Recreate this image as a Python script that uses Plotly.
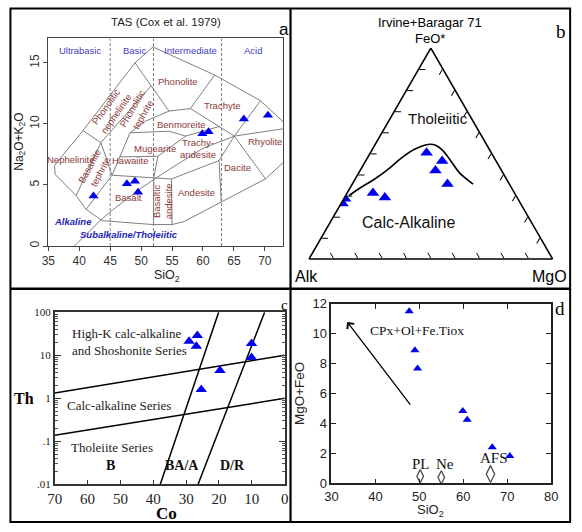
import numpy as np
import plotly.graph_objects as go

W, H = 582, 532

# ---------------- Panel a: TAS (Cox et al. 1979) ----------------
tas_sio2 = [42.3, 47.7, 49.0, 49.5, 59.9, 60.9, 66.6, 70.5]
tas_alk = [4.1, 5.1, 5.3, 4.4, 9.2, 9.35, 10.4, 10.7]

tas_lines = [
    ([36.0, 40.6, 49.0, 51.9, 61.9, 69.3, 73.0], [6.6, 9.45, 15.0, 16.3, 14.0, 11.9, 10.15]),
    ([36.0, 36.1, 39.5, 41.1, 43.7, 51.9, 55.0, 56.9, 70.1, 73.0], [6.6, 5.86, 4.13, 3.0, 2.08, 1.76, 1.76, 2.0, 5.5, 6.85]),
    ([40.6, 43.5], [9.45, 8.47]),
    ([43.5, 39.5], [8.47, 4.13]),
    ([43.5, 51.6], [8.47, 13.1]),
    ([49.0, 51.6, 54.5], [15.0, 13.1, 11.05]),
    ([54.5, 57.96], [11.05, 11.26]),
    ([61.9, 57.96], [14.0, 11.26]),
    ([57.96, 65.06], [11.26, 9.0]),
    ([69.3, 65.06, 62.6], [11.9, 9.0, 7.0]),
    ([65.06, 70.1], [9.0, 5.5]),
    ([62.6, 62.95], [7.0, 3.62]),
    ([45.3, 52.05, 54.9, 62.6], [5.8, 5.6, 5.49, 7.0]),
    ([52.05, 52.0], [5.6, 1.76]),
    ([54.9, 55.0], [5.49, 1.76]),
    ([45.3, 41.1], [5.8, 3.0]),
    ([43.5, 45.3], [8.47, 5.8]),
    ([54.5, 50.6, 48.2, 45.3], [11.05, 10.2, 9.27, 5.8]),
    ([46.5, 52.7], [7.3, 7.35]),
    ([48.2, 54.5, 57.2], [9.27, 9.4, 9.0]),
    ([52.05, 52.7, 57.2], [5.6, 7.35, 9.0]),
    ([57.2, 62.7], [9.0, 9.8]),
    ([39.2, 40, 43.2, 45, 48, 50, 53.7, 55, 60, 65.06, 73], [0, 0.4, 2, 2.8, 4, 4.75, 6, 6.4, 8, 9.0, 9.6]),
]
tas_dividers = [45, 52, 63]

tas_fields = [
    ("Phonolite", 55.95, 13.45, 0), ("Trachyte", 63.2, 11.53, 0), ("Benmoreite", 56.5, 9.93, 0),
    ("Mugearite", 52.2, 8.0, 0), ("Trachy-<br>andesite", 59.2, 7.95, 0), ("Rhyolite", 69.95, 8.52, 0),
    ("Dacite", 65.5, 6.47, 0), ("Hawaiite", 48.2, 7.0, 0), ("Nephelinite", 38.7, 7.05, 0),
    ("Basalt", 47.95, 3.94, 0), ("Andesite", 59.0, 4.42, 0), ("Basaltic<br>andesite", 53.45, 3.7, -90),
    ("Basanite<br>tephrite", 42.4, 6.3, -62), ("Phonolitic<br>nephelinite", 45.05, 11.1, -55),
    ("Phonolitic<br>tephrite", 49.4, 11.0, -60),
]
tas_groups = [("Ultrabasic", 40.05), ("Basic", 49.0), ("Intermediate", 57.95), ("Acid", 68.07)]

# ---------------- Panel b: AFM (Irvine & Baragar 1971) ----------------
afm_feo = [0.263, 0.286, 0.313, 0.291, 0.503, 0.465, 0.420, 0.355]
afm_mgo = [0.006, 0.005, 0.106, 0.166, 0.231, 0.314, 0.309, 0.391]
afm_alk = [1 - f - m for f, m in zip(afm_feo, afm_mgo)]

ib_feo = [0.301, 0.339, 0.378, 0.424, 0.477, 0.520, 0.543, 0.538, 0.515, 0.462, 0.408, 0.355]
ib_mgo = [0.014, 0.043, 0.079, 0.111, 0.139, 0.173, 0.217, 0.253, 0.291, 0.353, 0.414, 0.496]
ib_alk = [1 - f - m for f, m in zip(ib_feo, ib_mgo)]

# ---------------- Panel c: Th vs Co (Hastie et al. 2007) ----------------
co_vals = [29.1, 26.6, 26.9, 25.4, 19.7, 10.1, 10.1]
th_vals = [21.0, 28.8, 16.2, 1.6, 4.4, 18.7, 8.9]
hc_lines = [
    ([70, 0], [1.32, 10.0]),
    ([70, 0], [0.139, 1.0]),
    ([37.9, 20.1], [0.01, 100]),
    ([26.4, 6.1], [0.01, 100]),
]
hc_ticks = [0.01, 0.1, 1, 10, 100]
hc_ticktext = [".01", ".1", "1", "10", "100"]
hc_minor = [k * 10.0 ** e for e in range(-2, 2) for k in range(2, 10)]

# ---------------- Panel d: MgO+FeO vs SiO2 ----------------
d_sio2 = [47.7, 49.0, 49.6, 59.9, 60.9, 66.6, 70.6]
d_mgfe = [11.5, 8.9, 7.68, 4.84, 4.26, 2.42, 1.84]
min_names = ["PL", "Ne", "AFS"]
min_sio2 = [50.2, 55.0, 66.2]
min_mgfe = [0.48, 0.41, 0.63]
min_size = [9.5, 9.5, 12]
arrow_tail = (48.2, 5.17)
arrow_head = (33.6, 10.79)

BLUE = "#0000ee"
SANS = "Liberation Sans, Arial, sans-serif"
SERIF = "Liberation Serif, Times New Roman, serif"


def px(x):
    return x / W


def py(y):
    return 1 - y / H


fig = go.Figure()

# Panel a traces
for xs, ys in tas_lines:
    fig.add_trace(go.Scatter(x=xs, y=ys, mode="lines", line=dict(color="#7f7f7f", width=1),
                             hoverinfo="skip", showlegend=False, xaxis="x", yaxis="y"))
for d in tas_dividers:
    fig.add_trace(go.Scatter(x=[d, d], y=[0, 17], mode="lines",
                             line=dict(color="#7f7f7f", width=1, dash="3px,2px"),
                             hoverinfo="skip", showlegend=False, xaxis="x", yaxis="y"))
fig.add_trace(go.Scatter(x=tas_sio2, y=tas_alk, mode="markers",
                         marker=dict(symbol="triangle-up", size=9, color=BLUE),
                         showlegend=False, xaxis="x", yaxis="y"))

# Panel b traces
fig.add_trace(go.Scatterternary(a=ib_feo, b=ib_alk, c=ib_mgo, mode="lines",
                                line=dict(color="black", width=1.6, shape="spline"),
                                showlegend=False, subplot="ternary"))
fig.add_trace(go.Scatterternary(a=afm_feo, b=afm_alk, c=afm_mgo, mode="markers",
                                marker=dict(symbol="triangle-up", size=11, color=BLUE),
                                showlegend=False, subplot="ternary"))

# Panel c traces
for xs, ys in hc_lines:
    fig.add_trace(go.Scatter(x=xs, y=ys, mode="lines", line=dict(color="black", width=1.5),
                             hoverinfo="skip", showlegend=False, xaxis="x2", yaxis="y2"))
fig.add_trace(go.Scatter(x=co_vals, y=th_vals, mode="markers",
                         marker=dict(symbol="triangle-up", size=10, color=BLUE),
                         showlegend=False, xaxis="x2", yaxis="y2"))

# Panel d traces
fig.add_trace(go.Scatter(x=d_sio2, y=d_mgfe, mode="markers",
                         marker=dict(symbol="triangle-up", size=8, color=BLUE),
                         showlegend=False, xaxis="x3", yaxis="y3"))
fig.add_trace(go.Scatter(x=min_sio2, y=min_mgfe, mode="markers",
                         marker=dict(symbol="diamond-tall-open", size=min_size, color="black",
                                     line=dict(width=1.3, color="black")),
                         showlegend=False, xaxis="x3", yaxis="y3"))

ann = []


def note(text, x, y, xref="paper", yref="paper", size=12, family=SANS, color="black",
         angle=0, xanchor="center", align="center"):
    if xref == "paper":
        x = px(x)
    if yref == "paper":
        y = py(y)
    ann.append(dict(x=x, y=y, xref=xref, yref=yref, text=text, showarrow=False,
                    textangle=angle, xanchor=xanchor, yanchor="middle", align=align,
                    font=dict(family=family, size=size, color=color)))


# Panel a annotations
for txt, x, y, ang in tas_fields:
    note(txt, x, y, "x", "y", size=9.5, color="#8b3a3a", angle=ang)
for txt, x in tas_groups:
    note(txt, x, 15.97, "x", "y", size=9.5, color="#3d3dc4")
note("<b><i>Alkaline</i></b>", 39.0, 2.02, "x", "y", size=9.5, color="#1f1fb4")
note("<b><i>Subalkaline/Tholeiitic</i></b>", 48.0, 0.93, "x", "y", size=9.5, color="#1f1fb4")
note("TAS (Cox et al. 1979)", 162, 15, size=11.5, color="#222")
note("a", 283, 23, size=17)
note("Na<sub>2</sub>O+K<sub>2</sub>O", 12, 139, size=12, color="#222", angle=-90)
note("SiO<sub>2</sub>", 163, 277, size=12.5, color="#222")

# Panel b annotations
note("Irvine+Baragar 71", 432.7, 16, size=13)
note("FeO*", 432.7, 32, size=13)
note("Alk", 306, 277, size=16)
note("MgO", 556, 277, size=16)
note("Tholeiitic", 441, 115, size=15, color="#111")
note("Calc-Alkaline", 411, 221.5, size=16, color="#111")
note("b", 568, 25, size=19, family=SERIF)

# Panel c annotations
note("High-K calc-alkaline<br>and Shoshonite Series", 65.3, np.log10(20), "x2", "y2",
     size=13, family=SERIF, color="#222", xanchor="left", align="left")
note("Calc-alkaline Series", 67.0, np.log10(0.695), "x2", "y2", size=13, family=SERIF,
     color="#222", xanchor="left")
note("Tholeiite Series", 65.8, np.log10(0.0708), "x2", "y2", size=13, family=SERIF,
     color="#222", xanchor="left")
for txt, x in [("B", 53.1), ("BA/A", 31.3), ("D/R", 15.9)]:
    note("<b>%s</b>" % txt, x, np.log10(0.027), "x2", "y2", size=14, family=SERIF, color="#111")
note("<b>Th</b>", 16, 403, size=16, family=SERIF)
note("<b>Co</b>", 163, 521, size=17, family=SERIF)
note("c", 284, 307, size=15, family=SERIF)

# Panel d annotations
ann.append(dict(x=arrow_head[0], y=arrow_head[1], ax=arrow_tail[0], ay=arrow_tail[1],
                xref="x3", yref="y3", axref="x3", ayref="y3", text="", showarrow=True,
                arrowhead=4, arrowsize=1.3, arrowwidth=1.3, arrowcolor="black"))
note("CPx+Ol+Fe.Tiox", 38.4, 10.2, "x3", "y3", size=13.5, family=SERIF, color="#111",
     xanchor="left")
for nm, x, y in zip(min_names, [50.3, 55.8, 67.1], [1.3, 1.3, 1.72]):
    note(nm, x, y, "x3", "y3", size=15, family=SERIF, color="#111")
note("MgO+FeO", 299, 398, size=13.5, color="#222", angle=-90)
note("SiO<sub>2</sub>", 434, 518, size=13, color="#222")
note("d", 567, 310, size=19, family=SERIF)

shapes = [
    dict(type="rect", xref="paper", yref="paper", x0=px(2.5), y0=py(1.5), x1=px(577), y1=py(530),
         line=dict(color="black", width=2)),
    dict(type="line", xref="paper", yref="paper", x0=px(290), y0=py(1.5), x1=px(290), y1=py(530),
         line=dict(color="black", width=2.2)),
    dict(type="line", xref="paper", yref="paper", x0=px(2.5), y0=py(290), x1=px(577), y1=py(290),
         line=dict(color="black", width=2.6)),
]

ternary_axis = dict(showticklabels=False, ticks="inside", ticklen=6, dtick=0.1, tick0=0,
                    linecolor="black", linewidth=1.6, tickcolor="black", tickwidth=1.1,
                    showgrid=False, title=dict(text=""))

fig.update_layout(
    width=W, height=H, margin=dict(l=0, r=0, t=0, b=0, pad=0),
    paper_bgcolor="white", plot_bgcolor="white", showlegend=False,
    xaxis=dict(domain=[px(41.4), px(282.7)], range=[35, 73], anchor="y",
               tickvals=[35, 40, 45, 50, 55, 60, 65, 70], ticks="outside", ticklen=4,
               tickcolor="#444", showline=True, mirror=True, linecolor="#444", linewidth=1,
               showgrid=False, zeroline=False, tickfont=dict(family=SANS, size=12, color="#333")),
    yaxis=dict(domain=[py(246), py(32.3)], range=[0, 17], anchor="x",
               tickvals=[0, 5, 10, 15], ticks="outside", ticklen=4, tickangle=-90,
               tickcolor="#444", showline=True, mirror=True, linecolor="#444", linewidth=1,
               showgrid=False, zeroline=False, tickfont=dict(family=SANS, size=12, color="#333")),
    xaxis2=dict(domain=[px(48), px(284)], range=[70, 0], anchor="y2",
                tickvals=[70, 60, 50, 40, 30, 20, 10, 0], ticks="inside", ticklen=5,
                showline=True, mirror=True, linecolor="#333", linewidth=1.5, tickcolor="#333",
                showgrid=False, zeroline=False, tickfont=dict(family=SERIF, size=15, color="#222")),
    yaxis2=dict(domain=[py(491.3), py(314)], type="log", range=[-2, 2], anchor="x2",
                tickmode="array", tickvals=hc_ticks, ticktext=hc_ticktext, ticks="inside", ticklen=6,
                minor=dict(tickmode="array", tickvals=hc_minor, ticks="inside", ticklen=3,
                           tickcolor="#555", showgrid=False),
                showline=True, mirror="allticks", linecolor="#333", linewidth=1.5, tickcolor="#333",
                showgrid=False, zeroline=False, tickfont=dict(family=SERIF, size=11, color="#222")),
    xaxis3=dict(domain=[px(332), px(557.5)], range=[30, 80], anchor="y3", dtick=10,
                ticks="inside", ticklen=5, showline=True, mirror="ticks", linecolor="#222",
                linewidth=1.5, tickcolor="#222", showgrid=False, zeroline=False,
                tickfont=dict(family=SANS, size=13, color="#222")),
    yaxis3=dict(domain=[py(490.3), py(305.5)], range=[0, 12], anchor="x3", dtick=2,
                ticks="inside", ticklen=5, showline=True, mirror="ticks", linecolor="#222",
                linewidth=1.5, tickcolor="#222", showgrid=False, zeroline=False,
                tickfont=dict(family=SANS, size=13, color="#222")),
    ternary=dict(domain=dict(x=[px(434 - 125), px(434 + 125)], y=[py(270.75), py(30.75)]),
                 sum=1, bgcolor="white",
                 aaxis=ternary_axis, baxis=ternary_axis, caxis=ternary_axis),
    annotations=ann, shapes=shapes,
)

fig.write_html("out.html", config={"displayModeBar": False},
               post_script="document.body.style.margin='0px';document.body.style.padding='0px';")
